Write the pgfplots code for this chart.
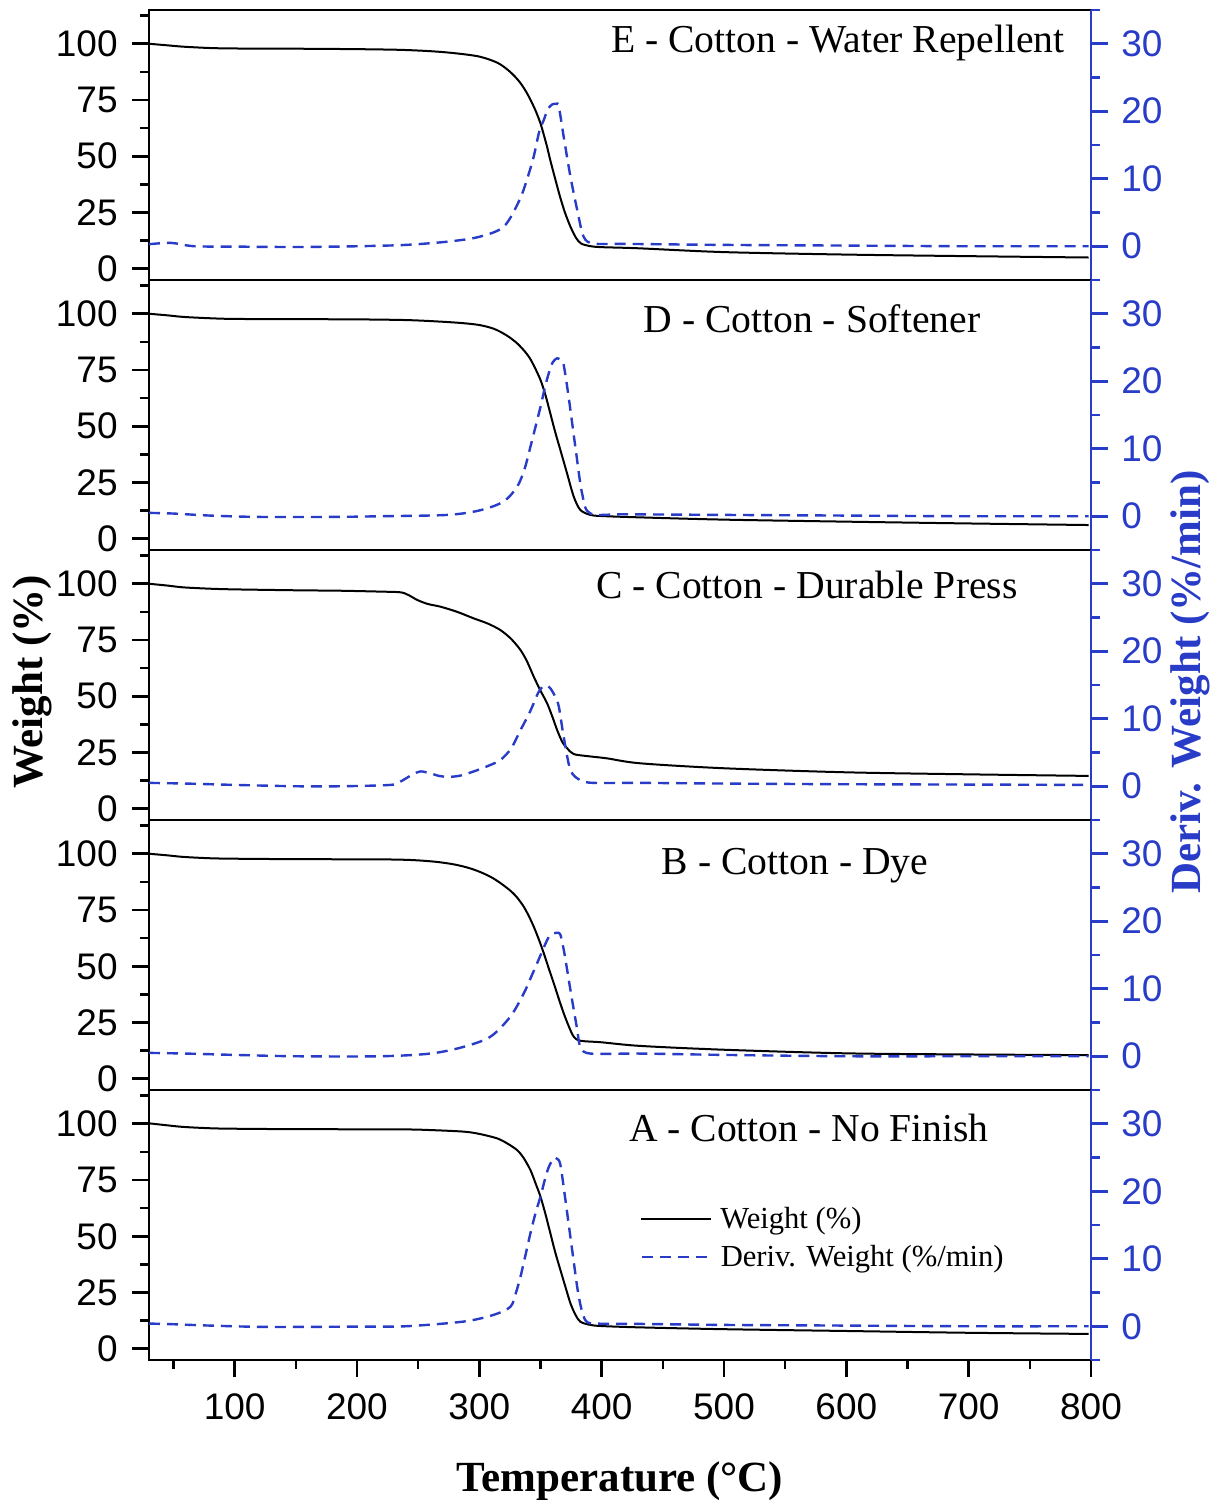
\documentclass[border=0pt]{standalone}
\usepackage{fontspec}
\setmainfont{Liberation Serif}
\setsansfont{Liberation Sans}
\usepackage{pgfplots}
\pgfplotsset{compat=1.18}
\definecolor{dblue}{RGB}{40,60,200}
\tikzset{ttl/.style={anchor=base, font=\fontsize{19.8}{22}\selectfont}}
\pgfplotsset{
  base/.style={width=471pt,height=135pt,scale only axis,xmin=30,xmax=800,
    tick align=outside, major tick length=8.5pt, minor tick length=4.5pt,
    /pgf/number format/assume math mode=true,
    tick label style={font=\sffamily\fontsize{18.5}{20}\selectfont},
    anchor=north west},
  leftax/.style={base, ymin=-5,ymax=115, ytick={0,25,50,75,100},
    minor ytick={12.5,37.5,62.5,87.5,112.5}, ytick pos=left,
    axis line style={line width=1.3pt}, tick style={black,line width=1.3pt},
    xmajorticks=false, xminorticks=false,
    yticklabel style={inner sep=0pt}, yticklabel shift=7pt},
  rightax/.style={base, ymin=-5, ymax=35, axis x line=none, axis y line*=right,
    ytick={0,10,20,30}, minor ytick={-5,5,15,25,35},
    y axis line style={dblue,line width=1.4pt}, tick style={dblue,line width=1.3pt},
    yticklabel style={text=dblue, inner sep=0pt}, yticklabel shift=6.5pt},
  wt/.style={black, line width=1pt, smooth, tension=0.5, no markers},
  dv/.style={dblue, line width=1.2pt, dash pattern=on 5.5pt off 3.5pt, smooth, tension=0.5, no markers},
  leg/.style={legend style={anchor=west, draw=none, fill=none,
    font=\fontsize{15.3}{17}\selectfont, inner sep=0pt,
    nodes={inner sep=0pt},
    /tikz/every odd column/.append style={column sep=4pt}},
    legend cell align=left,
    legend image code/.code={\draw[##1] (0pt,0pt) -- (35pt,0pt);}},
}
\begin{document}
\begin{tikzpicture}
\useasboundingbox (-74.5pt,5pt) rectangle (536pt,-745pt);
% ---------------- E ----------------
\begin{axis}[leftax, at={(0pt,0pt)}]
\addplot[wt] coordinates {(30,100) (45,99.3) (58,98.7) (80,98.1) (100,97.9) (150,97.8) (200,97.6) (235,97.3) (260,96.7) (280,95.8) (300,94.3) (315,91.5) (325,87.6) (333,83) (339,78) (345,71.5) (350,64.6) (355,55) (358,48.3) (362,40) (366,32) (370,25) (374.5,18.7) (379,13.8) (383,11.3) (390,10.1) (400,9.6) (430,9.1) (500,7.4) (600,6.3) (700,5.6) (798,5.0)};
\node[ttl] at (rel axis cs:0.7314,0.841) {E - Cotton - Water Repellent};
\end{axis}
\begin{axis}[rightax, at={(0pt,0pt)}]
\addplot[dv] coordinates {(30,0.3) (48,0.5) (67,0.0) (100,-0.05) (130,-0.1) (160,-0.1) (200,0.0) (240,0.2) (275,0.7) (300,1.4) (320,2.9) (333,6.9) (340,10.5) (344.5,13.3) (349,17) (352.7,18.7) (356,20.3) (359.5,21.0) (363,21.1) (365,20.7) (369,16.2) (374.5,10.3) (380,5.4) (385.3,1.4) (393.5,0.4) (420,0.35) (500,0.2) (600,0.1) (700,0.0) (798,0.0)};
\end{axis}
% ---------------- D ----------------
\begin{axis}[leftax, at={(0pt,-135pt)}]
\addplot[wt] coordinates {(30,100) (45,99.3) (58,98.6) (80,98.0) (100,97.7) (150,97.6) (200,97.5) (240,97.2) (265,96.6) (285,95.9) (300,95.0) (312,93.3) (322,90.5) (330,87.3) (336,84) (341,80.5) (345,76.5) (350,70.6) (354,64) (358,55.8) (362,47.5) (366.3,39.4) (371.7,29.1) (377.2,18.7) (382.6,12.8) (390.8,10.6) (400,10.1) (431.6,9.5) (500,8.5) (600,7.6) (700,6.8) (798,6.1)};
\node[ttl] at (rel axis cs:0.7038,0.807) {D - Cotton - Softener};
\end{axis}
\begin{axis}[rightax, at={(0pt,-135pt)}]
\addplot[dv] coordinates {(30,0.5) (50,0.4) (80,0.1) (120,-0.1) (180,-0.1) (219,0.0) (274,0.2) (301,0.9) (320,2.2) (331,4.4) (337,7) (341.8,10.3) (346,13.3) (350,16.2) (353.5,19) (356.8,21.2) (360,22.8) (363.6,23.4) (367,23.1) (369,22.4) (373,17.7) (378.5,10.3) (384,3.4) (390.8,0.4) (420,0.3) (500,0.2) (600,0.1) (700,0.0) (798,0.0)};
\end{axis}
% ---------------- C ----------------
\begin{axis}[leftax, at={(0pt,-270pt)}]
\addplot[wt] coordinates {(30,100) (45,99.2) (58,98.4) (80,97.8) (100,97.5) (150,97.1) (186.6,96.9) (220,96.5) (235.6,96.2) (242,95.0) (249.3,92.8) (258,91) (268.3,89.8) (282,87.5) (295.5,84.6) (307,82.3) (317.3,79.4) (326,75.5) (333.6,70.6) (339,65.5) (344.5,58.7) (350,52.5) (355.4,46.9) (360,40.5) (363.6,35) (368,29.5) (371.8,26.9) (377.2,24.3) (390,23.3) (404.5,22.4) (431.6,20.2) (500,18) (600,16.2) (700,15.3) (798,14.6)};
\node[ttl] at (rel axis cs:0.6985,0.822) {C - Cotton - Durable Press};
\end{axis}
\begin{axis}[rightax, at={(0pt,-270pt)}]
\addplot[dv] coordinates {(30,0.5) (60,0.4) (100,0.2) (150,0.0) (186.6,0.0) (227.4,0.2) (235.6,0.7) (245,1.7) (251.9,2.2) (260,1.9) (268,1.5) (276.4,1.4) (285,1.6) (295.5,2.2) (307,3.0) (317.3,3.9) (326,5.6) (333.6,8.3) (340,10.5) (344.5,12.3) (348,13.8) (351.4,14.7) (355,14.9) (358.1,14.5) (362,13.3) (365,11.8) (369,7.3) (374.5,2.4) (382.6,0.9) (393.5,0.5) (431.6,0.5) (500,0.4) (600,0.3) (700,0.25) (798,0.2)};
\end{axis}
% ---------------- B ----------------
\begin{axis}[leftax, at={(0pt,-405pt)}]
\addplot[wt] coordinates {(30,100) (45,99.3) (58,98.6) (80,98.0) (100,97.8) (150,97.6) (219.3,97.5) (245,97.2) (265,96.4) (280,95.2) (292,93.6) (302,91.6) (311,89.2) (319,86.3) (326,83.3) (331,80.5) (336.3,76.5) (340.5,72.3) (344.5,67.6) (348.6,62) (352.7,55.8) (356.8,49) (360.9,42.4) (365,35.5) (369,29.1) (373,23.5) (377.2,18.7) (382.6,16.9) (400,16.2) (431.6,14.6) (500,12.9) (600,11.3) (700,10.8) (798,10.5)};
\node[ttl] at (rel axis cs:0.6858,0.800) {B - Cotton - Dye};
\end{axis}
\begin{axis}[rightax, at={(0pt,-405pt)}]
\addplot[dv] coordinates {(30,0.5) (60,0.4) (100,0.2) (150,0.0) (219.3,0.0) (260,0.4) (287.3,1.4) (309.1,2.9) (325.5,5.9) (336.3,9.3) (342,11.6) (347.3,13.8) (351.5,15.6) (355.4,17.2) (358,18.0) (360.9,18.2) (364,18.3) (366.3,18) (369,15.8) (371.8,12.8) (374.5,9.8) (377.2,6.9) (380,4) (382.6,1.4) (390.8,0.4) (431.6,0.4) (500,0.2) (600,0.0) (700,0.0) (798,0.0)};
\end{axis}
% ---------------- A ----------------
\begin{axis}[leftax, at={(0pt,-540pt)}, xmajorticks=true, xminorticks=true,
  xtick={100,200,...,800}, minor xtick={50,150,...,750}, xtick pos=bottom,
  xticklabel style={inner sep=0pt}, xticklabel shift=8pt,
  leg, legend style={at={(0.5212,0.522)}}]
\addplot[wt] coordinates {(30,100.2) (45,99.3) (58,98.6) (80,98.0) (99,97.8) (150,97.6) (235.6,97.5) (260,97.2) (287.3,96.5) (300,95.5) (314.6,93.5) (323,91.2) (330.9,88.3) (336,85) (341.8,79.4) (346,73.5) (350,67.6) (354,60) (358.1,51.3) (362,43) (366.3,35) (370.4,27.5) (374.5,20.2) (378.5,15.2) (382.6,12) (390.8,10.6) (400,10.1) (431.6,9.5) (500,8.7) (600,7.9) (700,7.1) (798,6.6)};
\addlegendentry{Weight (\%)}
\node[ttl] at (rel axis cs:0.7006,0.811) {A - Cotton - No Finish};
\end{axis}
\begin{axis}[rightax, at={(0pt,-540pt)}, leg, legend style={at={(0.5212,0.381)}}]
\addplot[dv] coordinates {(30,0.4) (50,0.3) (80,0.1) (126.7,-0.1) (200,-0.05) (240,0.0) (287.3,0.7) (311.9,1.7) (325.5,2.9) (330,5) (333.6,7.3) (337.7,10.5) (341.8,13.8) (346,16.8) (350,19.2) (353.4,21.6) (356.8,23.6) (360.9,24.9) (363.6,24.8) (366.3,23.9) (370.4,18.7) (375.9,11.3) (381.3,4.4) (386.7,0.9) (396.2,0.4) (430,0.35) (500,0.2) (600,0.1) (700,0.0) (798,0.0)};
\addlegendentry{Deriv. Weight (\%/min)}
\end{axis}
% ---------------- global labels ----------------
\node[rotate=90, font=\bfseries\fontsize{21.5}{24}\selectfont] at (-58.5pt,-336pt) {Weight (\%)};
\node[rotate=90, text=dblue, font=\bfseries\fontsize{21.5}{24}\selectfont] at (520.5pt,-336pt) {Deriv. Weight (\%/min)};
\node[font=\bfseries\fontsize{21.5}{24}\selectfont] at (235.5pt,-735.5pt) {Temperature (°C)};
\end{tikzpicture}
\end{document}
